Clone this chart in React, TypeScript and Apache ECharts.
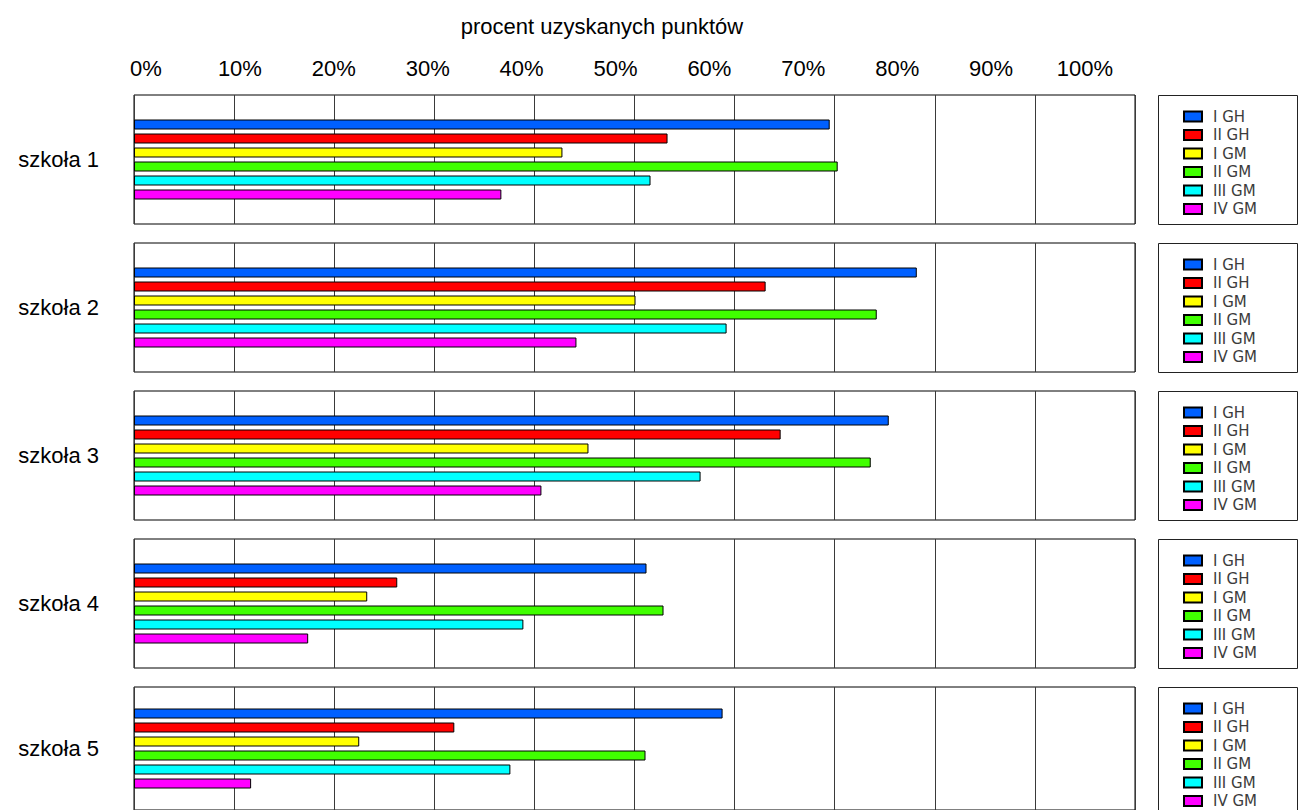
import React, { useEffect, useRef } from "react";
import * as echarts from "echarts";

const schools = ["szkoła 1", "szkoła 2", "szkoła 3", "szkoła 4", "szkoła 5"];
const seriesNames = ["I GH", "II GH", "I GM", "II GM", "III GM", "IV GM"];
const seriesColors = ["#0060FF", "#FF0000", "#FFFF00", "#40FF00", "#00FFFF", "#FF00FF"];
const valIGH = [69.5, 78.2, 75.4, 51.2, 58.8];
const valIIGH = [53.3, 63.1, 64.6, 26.3, 32.0];
const valIGM = [42.8, 50.1, 45.4, 23.3, 22.5];
const valIIGM = [70.3, 74.2, 73.6, 52.9, 51.1];
const valIIIGM = [51.6, 59.2, 56.6, 38.9, 37.6];
const valIVGM = [36.7, 44.2, 40.7, 17.4, 11.7];
const allValues = [valIGH, valIIGH, valIGM, valIIGM, valIIIGM, valIVGM];
const tickValues = [0, 10, 20, 30, 40, 50, 60, 70, 80, 90, 100];
const titleText = "procent uzyskanych punktów";

const FONT = "'Liberation Sans', Arial, sans-serif";

export default function App() {
  const ref = useRef<HTMLDivElement>(null);
  useEffect(() => {
    if (!ref.current) return;
    const chart = echarts.init(ref.current, undefined, { renderer: "svg" });
    const panelTop0 = 95;
    const panelStep = 148;
    const panelH = 129;
    const grids: any[] = [];
    const xAxes: any[] = [];
    const yAxes: any[] = [];
    const series: any[] = [];
    const legends: any[] = [];
    const graphics: any[] = [];

    schools.forEach((s, i) => {
      const top = panelTop0 + i * panelStep;
      grids.push({
        left: 134,
        width: 1001,
        top,
        height: panelH,
        show: true,
        borderColor: "#000",
        borderWidth: 1,
        backgroundColor: "#fff",
      });
      xAxes.push({
        type: "value",
        gridIndex: i,
        min: 0,
        max: 100,
        interval: 10,
        axisLabel: { show: false },
        axisLine: { show: false },
        axisTick: { show: false },
        splitLine: { show: true, lineStyle: { color: "#3a3a3a", width: 1 } },
      });
      yAxes.push({
        type: "category",
        gridIndex: i,
        data: [s],
        inverse: true,
        axisLine: { show: false },
        axisTick: { show: false },
        axisLabel: {
          show: true,
          margin: 35,
          fontSize: 22,
          fontFamily: FONT,
          color: "#000",
        },
      });
      seriesNames.forEach((name, k) => {
        series.push({
          type: "bar",
          name,
          xAxisIndex: i,
          yAxisIndex: i,
          data: [allValues[k][i]],
          barWidth: 10,
          barGap: "40%",
          itemStyle: {
            color: seriesColors[k],
            borderColor: "#000",
            borderWidth: 1,
          },
          emphasis: { disabled: true },
        });
      });
      legends.push({
        orient: "vertical",
        left: 1183,
        top: top + 14,
        width: 110,
        height: 200,
        padding: 0,
        itemWidth: 18,
        itemHeight: 10,
        itemGap: 3.5,
        icon: "rect",
        selectedMode: false,
        data: seriesNames,
        textStyle: {
          fontSize: 15,
          fontFamily: "'DejaVu Sans', sans-serif",
          color: "#3c3c3c",
          padding: [0, 0, 0, 6],
        },
      });
      graphics.push({
        type: "rect",
        shape: { x: 1158.5, y: top + 0.5, width: 139, height: panelH },
        style: { fill: "none", stroke: "#222", lineWidth: 1 },
        silent: true,
      });
    });

    // top tick label axis
    grids.push({ left: 146, width: 939, top: 88, height: 1, show: false });
    xAxes.push({
      type: "value",
      gridIndex: 5,
      position: "top",
      min: 0,
      max: 100,
      interval: 10,
      axisLine: { show: false },
      axisTick: { show: false },
      splitLine: { show: false },
      axisLabel: {
        show: true,
        margin: 8,
        fontSize: 22,
        fontFamily: FONT,
        color: "#000",
        lineHeight: 24,
        showMinLabel: true,
        showMaxLabel: true,
        formatter: (v: number) => `${v}%`,
      },
    });
    yAxes.push({ type: "value", gridIndex: 5, show: false, min: 0, max: 1 });

    graphics.push({
      type: "text",
      x: 602,
      y: 26,
      style: {
        text: titleText,
        align: "center",
        verticalAlign: "middle",
        font: `22px ${FONT}`,
        fill: "#000",
      },
    });

    chart.setOption({
      animation: false,
      backgroundColor: "#fff",
      grid: grids,
      xAxis: xAxes,
      yAxis: yAxes,
      series,
      legend: legends,
      graphic: graphics,
    });
    return () => chart.dispose();
  }, []);
  return (
    <div
      ref={ref}
      style={{ position: "absolute", left: 0, top: 0, width: 1298, height: 810 }}
    />
  );
}
